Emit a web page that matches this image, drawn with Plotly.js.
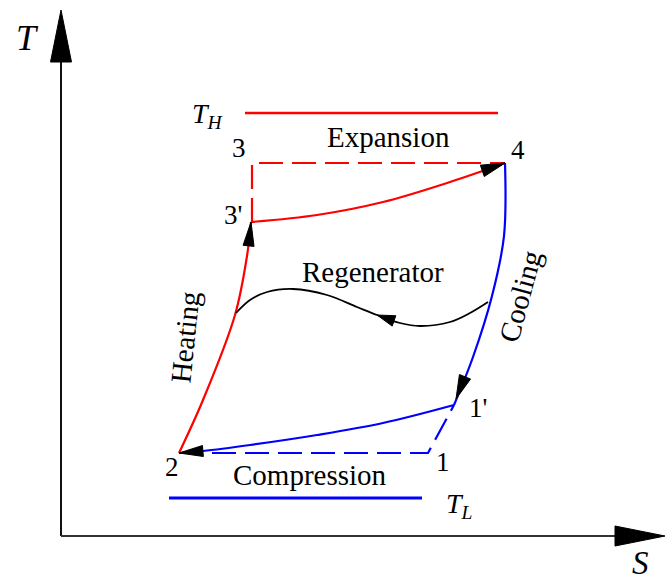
<!DOCTYPE html>
<html><head><meta charset="utf-8">
<script src="https://cdn.plot.ly/plotly-3.0.1.min.js"></script>
<style>html,body{margin:0;padding:0;background:#fff;}</style>
</head><body>
<div id="chart" style="width:667px;height:581px;"></div>
<script>
// Schematic T-S diagram (S = entropy, T = temperature), arbitrary units
const heatingS = [118, 142, 174, 186, 190];
const heatingT = [83, 136, 221, 280, 314];
const expansionS = [190, 256, 322, 389, 444];
const expansionT = [314, 321, 334, 354, 373];
const coolingS = [444, 443, 431, 412, 393];
const coolingT = [373, 300, 240, 179, 131];
const compressionS = [393, 322, 256, 189, 142, 118];
const compressionT = [131, 113, 101, 91, 85, 83];
const regenS = [175, 189, 206, 232, 266, 296, 316, 339, 359, 389, 409, 427];
const regenT = [223, 236, 244, 247, 241, 229, 221, 213, 210, 214, 223, 234];
const idealHotS = [191, 191, 444];
const idealHotT = [314, 373, 373];
const idealColdS = [118, 367, 393];
const idealColdT = [83, 83, 131];
const reservoirHS = [184, 437];
const reservoirHT = [423, 423];
const reservoirLS = [108, 361];
const reservoirLT = [38, 38];
const axisMaxS = 604;
const axisMaxT = 526;

const pointLabels = ['3', '4', "3'", "1'", '1', '2'];
const pointLabelS = [178, 457, 172, 417, 382, 111];
const pointLabelT = [388, 386, 321, 128, 74, 69];

const RED = '#ff0000', BLUE = '#0000ff', BLACK = '#000000';
const serif = 'Liberation Serif, Times New Roman, serif';

function arrowHead(tipS, tipT, fromS, fromT, len, half, color) {
  const dx = tipS - fromS, dy = tipT - fromT;
  const d = Math.hypot(dx, dy);
  const ux = dx / d, uy = dy / d;
  const bx = tipS - ux * len, by = tipT - uy * len;
  const px = -uy, py = ux;
  return {
    x: [tipS, bx + px * half, bx - px * half, tipS],
    y: [tipT, by + py * half, by - py * half, tipT],
    mode: 'lines', fill: 'toself', fillcolor: color,
    line: {color: color, width: 1}, hoverinfo: 'skip', showlegend: false
  };
}
function curve(xs, ys, color, dash, w, shape) {
  return {x: xs, y: ys, mode: 'lines',
    line: {color: color, width: w || 2.2, shape: shape || 'spline', smoothing: 1, dash: dash || 'solid'},
    hoverinfo: 'skip', showlegend: false};
}
const last = a => a[a.length - 1];
const prev = a => a[a.length - 2];

const traces = [
  curve(idealHotS, idealHotT, RED, '24px,9px', 2.2, 'linear'),
  curve(idealColdS, idealColdT, BLUE, '24px,9px', 2.2, 'linear'),
  curve(reservoirHS, reservoirHT, RED, null, 2.5, 'linear'),
  curve(reservoirLS, reservoirLT, BLUE, null, 3, 'linear'),
  curve(heatingS, heatingT, RED),
  curve(expansionS, expansionT, RED),
  curve(coolingS, coolingT, BLUE),
  curve(compressionS, compressionT, BLUE),
  curve(regenS, regenT, BLACK, null, 1.8),
  // axes
  {x: [0, 0], y: [0, axisMaxT - 52], mode: 'lines', line: {color: '#111', width: 2}, hoverinfo: 'skip', showlegend: false},
  {x: [0, axisMaxS - 50], y: [0, 0], mode: 'lines', line: {color: '#333', width: 2}, hoverinfo: 'skip', showlegend: false},
  arrowHead(0, axisMaxT, 0, 0, 52, 10.5, BLACK),
  arrowHead(axisMaxS, 0, 0, 0, 50, 10, BLACK),
  // process arrows
  arrowHead(last(heatingS), last(heatingT), heatingS[3], heatingT[3] - 5, 24, 5.5, BLACK),
  arrowHead(last(expansionS), last(expansionT), prev(expansionS), prev(expansionT), 24, 6, BLACK),
  arrowHead(last(coolingS) + 2, last(coolingT) + 6, prev(coolingS), prev(coolingT), 24, 6, BLACK),
  arrowHead(last(compressionS), last(compressionT), prev(compressionS), prev(compressionT), 24, 5.5, BLACK),
  arrowHead(regenS[6], regenT[6], regenS[7], regenT[7], 18, 5.5, BLACK)
];

const ann = (x, y, text, size, extra) => Object.assign({
  x: x, y: y, xref: 'x', yref: 'y', text: text, showarrow: false,
  font: {family: serif, size: size, color: '#000'}
}, extra || {});

const annotations = [
  ann(-34, 498, '<i>T</i>', 36),
  ann(579, -27, '<i>S</i>', 33),
  ann(147, 421, '<i>T</i><sub><i>H</i></sub>', 28),
  ann(398, 31, '<i>T</i><sub><i>L</i></sub>', 28),
  ann(327, 399, 'Expansion', 29),
  ann(249, 61, 'Compression', 29),
  ann(312, 264, 'Regenerator', 29),
  ann(124, 199, 'Heating', 29, {textangle: -84}),
  ann(459, 239, 'Cooling', 29, {textangle: -75})
];
pointLabels.forEach((t, i) => annotations.push(ann(pointLabelS[i], pointLabelT[i], t, 27)));

const layout = {
  width: 667, height: 581,
  margin: {l: 0, r: 0, t: 0, b: 0},
  paper_bgcolor: '#fff', plot_bgcolor: '#fff',
  xaxis: {range: [-61, 606], visible: false, fixedrange: true},
  yaxis: {range: [-45, 536], visible: false, fixedrange: true},
  annotations: annotations,
  showlegend: false
};
Plotly.newPlot('chart', traces, layout, {staticPlot: true, displayModeBar: false});
</script>
</body></html>
